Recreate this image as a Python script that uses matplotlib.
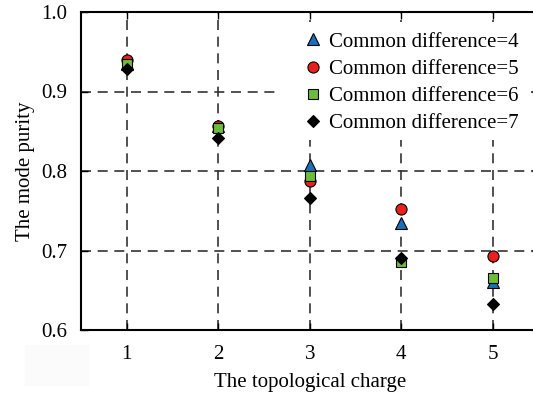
import matplotlib
matplotlib.use("Agg")
import matplotlib.pyplot as plt
from matplotlib.patches import Rectangle

# Data
charges = [1, 2, 3, 4, 5]
purity_d4 = [0.935, 0.856, 0.807, 0.735, 0.661]
purity_d5 = [0.939, 0.857, 0.787, 0.752, 0.693]
purity_d6 = [0.934, 0.854, 0.794, 0.685, 0.666]
purity_d7 = [0.928, 0.841, 0.766, 0.691, 0.633]
labels = ["Common difference=4", "Common difference=5",
          "Common difference=6", "Common difference=7"]

plt.rcParams["font.family"] = ["Liberation Serif", "DejaVu Serif"]

fig = plt.figure(figsize=(5.33, 3.97), dpi=100)
# faint grey smudge under the y tick labels in the original
fig.patches.append(Rectangle((25 / 533, 12 / 397), 63 / 533, 40 / 397,
                             transform=fig.transFigure, color="#fbfbfb", zorder=0))
ax = fig.add_axes([81 / 533, 67 / 397, 457.5 / 533, 318 / 397])

ax.plot(charges, purity_d4, "^", color="#1a6fb8", mec="black", mew=0.8, ms=8, label=labels[0], zorder=3)
ax.plot(charges, purity_d5, "o", color="#e8211d", mec="black", mew=0.8, ms=8, label=labels[1], zorder=4)
ax.plot(charges, purity_d6, "s", color="#6cbd3a", mec="black", mew=0.8, ms=6.5, label=labels[2], zorder=5)
ax.plot(charges, purity_d7, "D", color="black", mec="black", mew=0.8, ms=6.5, label=labels[3], zorder=6)

ax.set_xlim(0.5, 5.5)
ax.set_ylim(0.6, 1.0)
ax.set_xticks(charges)
ax.set_yticks([0.6, 0.7, 0.8, 0.9, 1.0])
ax.set_yticklabels(["0.6", "0.7", "0.8", "0.9", "1.0"])

ax.grid(True, linestyle=(0, (6, 4)), color="#333333", linewidth=1.2)
ax.set_axisbelow(True)
ax.tick_params(direction="in", top=True, right=True, length=5, width=1, labelsize=15)
ax.tick_params(axis="x", pad=11)
ax.tick_params(axis="y", pad=10)
for s in ax.spines.values():
    s.set_linewidth(1.5)

ax.set_xlabel("The topological charge", fontsize=15, labelpad=6)
ax.set_ylabel("The mode purity", fontsize=15, labelpad=4)

# white block behind the legend hides the grid there
ax.add_patch(Rectangle((0.424, 0.597), 0.553, 0.372, transform=ax.transAxes,
                       facecolor="white", edgecolor="none", zorder=2))

leg = ax.legend(loc="upper left", bbox_to_anchor=(0.485, 0.937), fontsize=15,
                frameon=False, handletextpad=0.25, handlelength=1.0,
                labelspacing=0.37, borderpad=0, borderaxespad=0)
leg.set_zorder(7)

fig.savefig("out.png", dpi=100)
